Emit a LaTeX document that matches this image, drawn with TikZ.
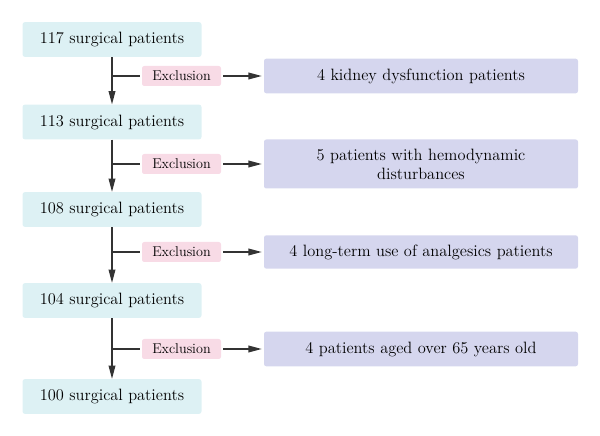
\documentclass[tikz,border=0pt]{standalone}
\usetikzlibrary{arrows.meta}

\definecolor{countblue}{HTML}{DDF1F4}
\definecolor{exclpink}{HTML}{F8DBE6}
\definecolor{reasonlav}{HTML}{D5D6EE}
\definecolor{arrowgray}{HTML}{333333}

\begin{document}
\begin{tikzpicture}[
    count/.style={fill=countblue, rounded corners=2pt, minimum width=5.37cm, minimum height=1.04cm, font=\fontsize{14}{16}\selectfont},
    excl/.style={fill=exclpink, rounded corners=2pt, minimum width=2.37cm, minimum height=0.6cm, inner sep=0pt, font=\fontsize{12.1}{14}\selectfont},
    reason/.style={fill=reasonlav, rounded corners=2pt, text width=9.42cm, inner xsep=0pt, align=center, minimum height=1.04cm, font=\fontsize{14}{16.3}\selectfont},
    flow/.style={-{Triangle[length=0.4cm,width=0.2cm]}, line width=0.045cm, draw=arrowgray},
    branch/.style={line width=0.045cm, draw=arrowgray}
]
    \useasboundingbox (0,0) rectangle (18,-13.08);

    % remaining patients after each step
    \node[count] (n117) at (3.36,-1.185) {117 surgical patients};
    \node[count] (n113) at (3.36,-3.66) {113 surgical patients};
    \node[count] (n108) at (3.36,-6.285) {108 surgical patients};
    \node[count] (n104) at (3.36,-9.015) {104 surgical patients};
    \node[count] (n100) at (3.36,-11.895) {100 surgical patients};

    % exclusion tags
    \node[excl] (ex1) at (5.445,-2.28) {Exclusion};
    \node[excl] (ex2) at (5.445,-4.92) {Exclusion};
    \node[excl] (ex3) at (5.445,-7.56) {Exclusion};
    \node[excl] (ex4) at (5.445,-10.47) {Exclusion};

    % reasons
    \node[reason] (kidney) at (12.63,-2.28) {4 kidney dysfunction patients};
    \node[reason, minimum height=1.47cm] (hemo) at (12.63,-4.92) {5 patients with hemodynamic\\disturbances};
    \node[reason, minimum height=1.0cm] (analg) at (12.63,-7.56) {4 long-term use of analgesics patients};
    \node[reason] (aged) at (12.63,-10.47) {4 patients aged over 65 years old};

    % main flow
    \draw[flow] (n117) -- (n113);
    \draw[flow] (n113) -- (n108);
    \draw[flow] (n108) -- (n104);
    \draw[flow] (n104) -- (n100);

    % side branches
    \draw[branch, shorten >=0.06cm] (n117 |- ex1) -- (ex1.west);
    \draw[branch, shorten >=0.06cm] (n113 |- ex2) -- (ex2.west);
    \draw[branch, shorten >=0.06cm] (n108 |- ex3) -- (ex3.west);
    \draw[branch, shorten >=0.06cm] (n104 |- ex4) -- (ex4.west);
    \draw[flow, shorten <=0.06cm, shorten >=0.06cm] (ex1) -- (kidney);
    \draw[flow, shorten <=0.06cm, shorten >=0.06cm] (ex2) -- (hemo);
    \draw[flow, shorten <=0.06cm, shorten >=0.06cm] (ex3) -- (analg);
    \draw[flow, shorten <=0.06cm, shorten >=0.06cm] (ex4) -- (aged);
\end{tikzpicture}
\end{document}
